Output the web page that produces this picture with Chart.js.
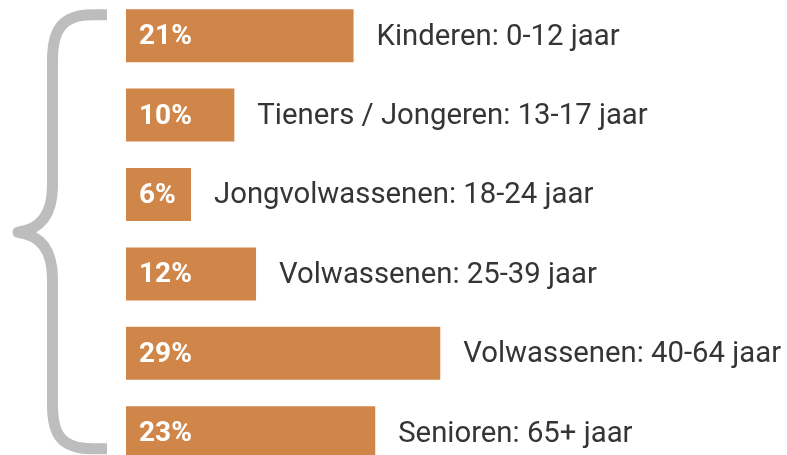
<!DOCTYPE html>
<html>
<head>
<meta charset="utf-8">
<script src="https://cdn.jsdelivr.net/npm/chart.js@4.4.1/dist/chart.umd.min.js"></script>
<style>
html,body{margin:0;padding:0;background:#fff;overflow:hidden;width:787px;height:455px;}
#wrap{position:absolute;left:0;top:-4.2px;width:787px;height:476.4px;}
</style>
</head>
<body>
<div id="wrap"><canvas id="c"></canvas></div>
<script>
const categories = [
  "Kinderen: 0-12 jaar",
  "Tieners / Jongeren: 13-17 jaar",
  "Jongvolwassenen: 18-24 jaar",
  "Volwassenen: 25-39 jaar",
  "Volwassenen: 40-64 jaar",
  "Senioren: 65+ jaar"
];
const percentages = [21, 10, 6, 12, 29, 23];
const valueLabels = ["21%", "10%", "6%", "12%", "29%", "23%"];

const barColor = "#D18649";
const braceColor = "#BDBDBD";

const labelPlugin = {
  id: "labels",
  afterDatasetsDraw(chart) {
    const ctx = chart.ctx;
    const meta = chart.getDatasetMeta(0);
    ctx.save();
    meta.data.forEach((bar, i) => {
      const left = bar.base;
      const right = bar.x;
      const y = bar.y;
      ctx.textBaseline = "middle";
      ctx.textAlign = "left";
      ctx.fillStyle = "#ffffff";
      ctx.font = "bold 28px Roboto";
      ctx.fillText(valueLabels[i], left + 13, y + 1.5);
      ctx.fillStyle = "#353535";
      ctx.font = "29.3px Roboto";
      ctx.fillText(categories[i], right + 23, y + 1.5);
    });
    ctx.restore();
  }
};

const bracePlugin = {
  id: "brace",
  beforeDatasetsDraw(chart) {
    const ctx = chart.ctx;
    const off = 4.2; // canvas offset
    const X = (v) => v, Y = (v) => v + off;
    ctx.save();
    ctx.strokeStyle = braceColor;
    ctx.lineWidth = 11;
    ctx.lineCap = "butt";
    ctx.lineJoin = "round";
    ctx.beginPath();
    ctx.moveTo(X(107), Y(14.5));
    ctx.lineTo(X(92), Y(14.5));
    ctx.bezierCurveTo(X(62), Y(14.5), X(52.5), Y(30), X(52.5), Y(60));
    ctx.lineTo(X(52.5), Y(185));
    ctx.bezierCurveTo(X(52.5), Y(215), X(40), Y(229), X(18), Y(232));
    ctx.bezierCurveTo(X(40), Y(235), X(52.5), Y(249), X(52.5), Y(279));
    ctx.lineTo(X(52.5), Y(405));
    ctx.bezierCurveTo(X(52.5), Y(435), X(62), Y(448.5), X(92), Y(448.5));
    ctx.lineTo(X(107), Y(448.5));
    ctx.stroke();
    ctx.restore();
  }
};

new Chart(document.getElementById("c"), {
  type: "bar",
  data: {
    labels: categories,
    datasets: [{
      data: percentages,
      backgroundColor: barColor,
      borderWidth: 0,
      barPercentage: 0.667,
      categoryPercentage: 1.0
    }]
  },
  options: {
    indexAxis: "y",
    responsive: true,
    maintainAspectRatio: false,
    animation: false,
    layout: { padding: { left: 126, right: 0, top: 0, bottom: 0 } },
    plugins: { legend: { display: false }, tooltip: { enabled: false } },
    scales: {
      x: { display: false, min: 0, max: 61, grid: { display: false } },
      y: { display: false, grid: { display: false } }
    }
  },
  plugins: [bracePlugin, labelPlugin]
});
</script>
</body>
</html>
